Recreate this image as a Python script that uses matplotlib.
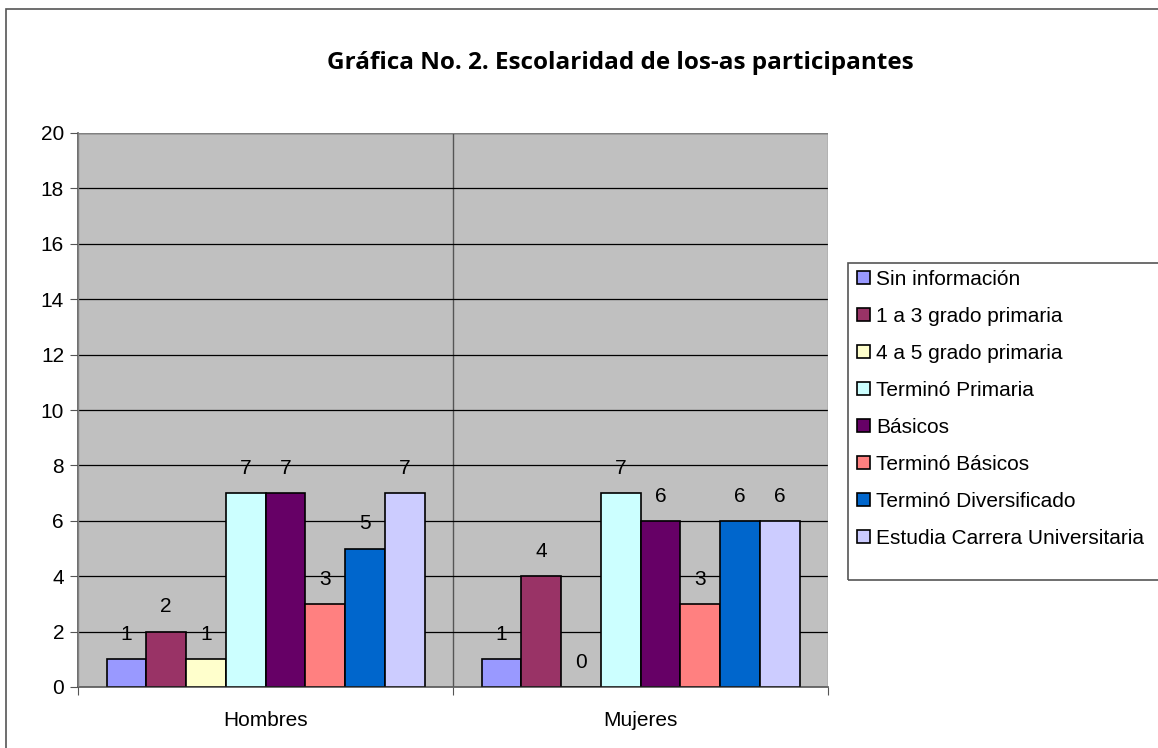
import matplotlib.pyplot as plt
import numpy as np
from matplotlib.patches import Rectangle

plt.rcParams['font.family'] = ['Liberation Sans', 'DejaVu Sans']

groups = ['Hombres', 'Mujeres']
series = ['Sin información', '1 a 3 grado primaria', '4 a 5 grado primaria',
          'Terminó Primaria', 'Básicos', 'Terminó Básicos',
          'Terminó Diversificado', 'Estudia Carrera Universitaria']
hombres = [1, 2, 1, 7, 7, 3, 5, 7]
mujeres = [1, 4, 0, 7, 6, 3, 6, 6]
colors = ['#9999FF', '#993366', '#FFFFCC', '#CCFFFF', '#660066',
          '#FF8080', '#0066CC', '#CCCCFF']
yticks = list(range(0, 21, 2))

fig = plt.figure(figsize=(11.58, 7.48), dpi=100)
ax = fig.add_axes([78 / 1158, 1 - 687 / 748, 750 / 1158, 554 / 748])
ax.set_facecolor('#C0C0C0')

# outer chart border
fig.patches.append(Rectangle((6 / 1158, -0.01), 1.02, 1 - 9 / 748 + 0.01,
                             transform=fig.transFigure, fill=False,
                             edgecolor='#555555', linewidth=1.2))

width = 0.106
x = np.arange(len(groups))
values = np.array([hombres, mujeres])
for i, name in enumerate(series):
    pos = x + (i - 3.5) * width
    vals = values[:, i]
    ax.bar(pos, vals, width, color=colors[i], edgecolor='black',
           linewidth=1.2, label=name, zorder=3)
    for p, v in zip(pos, vals):
        ax.text(p, v + 0.55, str(v), ha='center', va='bottom', fontsize=15,
                zorder=4)

ax.set_xlim(-0.5, 1.5)
ax.set_ylim(0, 20)
ax.set_yticks(yticks)
ax.yaxis.grid(True, color='black', linewidth=0.9, zorder=0)
ax.axvline(0.5, color='#555555', linewidth=1.0, zorder=1)
ax.set_xticks([-0.5, 0.5, 1.5])
ax.set_xticklabels([])
ax.set_xticks(x, minor=True)
ax.set_xticklabels(groups, minor=True, fontsize=15)
ax.tick_params(axis='x', which='minor', length=0, pad=17)
ax.tick_params(axis='x', which='major', length=6, direction='out',
               color='#555555')
ax.tick_params(axis='y', labelsize=15, length=6, direction='out',
               color='#555555', pad=4)
for s in ['top', 'right']:
    ax.spines[s].set_visible(False)
ax.spines['left'].set_color('#555555')
ax.spines['bottom'].set_color('#555555')
ax.spines['left'].set_linewidth(1.2)
ax.spines['bottom'].set_linewidth(1.2)
ax.add_patch(Rectangle((0, 0), 1, 1, transform=ax.transAxes, fill=False,
                       edgecolor='#808080', linewidth=1.0, zorder=5))

fig.text(620 / 1158, 1 - 63 / 748, 'Gráfica No. 2. Escolaridad de los-as participantes',
         ha='center', va='center', fontsize=17.5, fontweight='bold',
         family=['Open Sans', 'DejaVu Sans'])

# legend with its own box (taller than the entries, as in the original)
fig.legend(loc='upper left', bbox_to_anchor=(853 / 1158, 1 - 266 / 748),
           fontsize=15, frameon=False,
           handlelength=0.6, handleheight=0.6, handletextpad=0.3,
           labelspacing=0.86, borderpad=0.2, borderaxespad=0)
fig.patches.append(Rectangle((848 / 1158, 1 - 580 / 748), 0.3, 317 / 748,
                             transform=fig.transFigure, fill=False,
                             edgecolor='#555555', linewidth=1.2))

fig.savefig('out.png', dpi=100)
